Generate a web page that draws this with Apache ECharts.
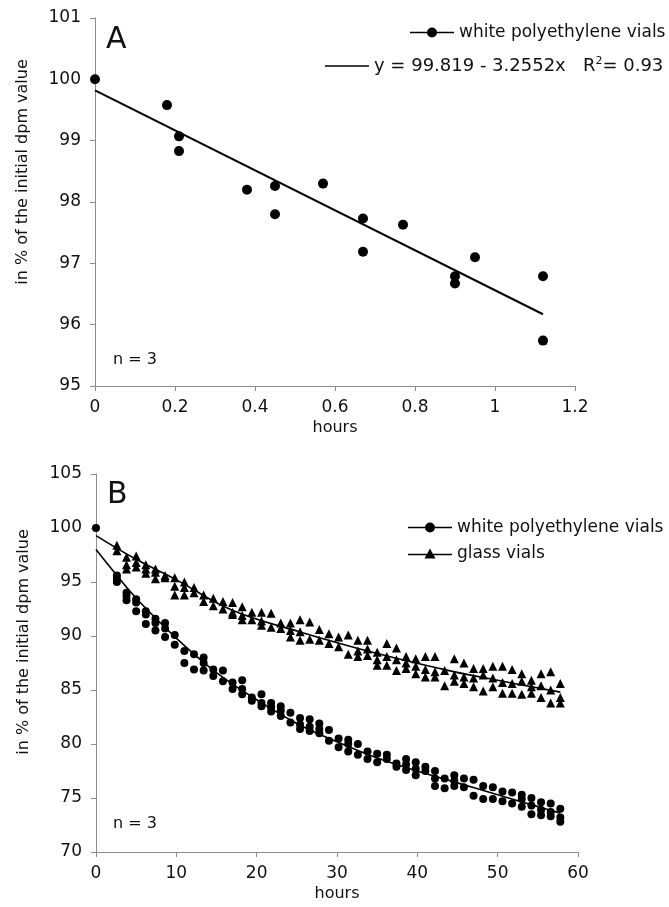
<!DOCTYPE html>
<html><head><meta charset="utf-8">
<script src="https://cdn.jsdelivr.net/npm/echarts@6/dist/echarts.min.js"></script>
<style>html,body{margin:0;padding:0;background:#fff}#c{width:669px;height:907px}</style>
</head><body><div id="c"></div>
<script>
const FONT = 'DejaVu Sans';

// ---------- Panel A ----------
const hoursA  = [0, 0.18, 0.21, 0.21, 0.38, 0.45, 0.45, 0.57, 0.67, 0.67, 0.77, 0.90, 0.90, 0.95, 1.12, 1.12];
const valuesA = [100.0, 99.58, 99.07, 98.83, 98.20, 98.26, 97.80, 98.30, 97.73, 97.19, 97.63, 96.79, 96.67, 97.10, 96.79, 95.74];
const trendAHours  = [0, 1.12];
const trendAValues = [99.82, 96.17];
const xTicksA = [0, 0.2, 0.4, 0.6, 0.8, 1, 1.2];
const yTicksA = [95, 96, 97, 98, 99, 100, 101];

// ---------- Panel B ----------
const timesB = [2.6, 3.8, 5.0, 6.2, 7.4, 8.6, 9.8, 11.0, 12.2, 13.4, 14.6, 15.8, 17.0, 18.2, 19.4, 20.6,
  21.8, 23.0, 24.2, 25.4, 26.6, 27.8, 29.0, 30.2, 31.4, 32.6, 33.8, 35.0, 36.2, 37.4, 38.6, 39.8,
  41.0, 42.2, 43.4, 44.6, 45.8, 47.0, 48.2, 49.4, 50.6, 51.8, 53.0, 54.2, 55.4, 56.6, 57.8];
const startB = [0, 100];
const polyB = [
  [95.6, 95.3, 95.0], [94.0, 93.7, 93.3], [93.4, 93.1, 92.3], [92.3, 92.0, 91.1], [91.6, 91.2, 90.5],
  [91.2, 90.7, 89.9], [90.1, 89.2], [88.6, 87.5], [88.3, 86.9], [88.0, 87.5, 86.8],
  [86.9, 86.3], [86.8, 85.8], [85.7, 85.1], [85.9, 85.1, 84.6], [84.3, 84.0],
  [84.6, 83.8, 83.5], [83.8, 83.4, 83.0], [83.5, 83.1, 82.6], [82.9, 82.0], [82.4, 81.8, 81.4],
  [82.3, 81.6, 81.2], [81.9, 81.4, 81.0], [81.3, 80.3], [80.5, 79.7], [80.4, 80.0, 79.3],
  [80.0, 79.0], [79.3, 78.6], [79.1, 78.3], [79.0, 78.6], [78.2, 77.9],
  [78.6, 78.1, 77.6], [78.3, 77.7, 77.1], [77.9, 77.5], [77.5, 76.8, 76.1], [76.8, 75.9],
  [77.1, 76.6, 76.1], [76.8, 76.0], [76.7, 75.2], [76.1, 74.9], [76.0, 74.9],
  [75.6, 74.7], [75.5, 74.5], [75.3, 74.9, 74.2], [75.0, 74.3, 73.5], [74.6, 73.9, 73.4],
  [74.5, 73.7, 73.3], [74.0, 73.2, 72.8]
];
const glassB = [
  [98.4, 97.9], [97.3, 96.6, 96.2], [97.4, 96.8, 96.4], [96.6, 96.2, 95.8], [96.2, 95.9, 95.3],
  [95.6, 95.4], [95.4, 94.6, 93.8], [95.0, 94.5, 93.8], [94.5, 94.0], [93.8, 93.2],
  [93.5, 92.8], [93.2, 92.5], [93.1, 92.2, 92.0], [92.7, 91.9, 91.5], [92.2, 91.5],
  [92.2, 91.4, 91.0], [92.1, 90.8], [91.2, 90.7], [91.2, 90.5, 89.9], [91.5, 90.4, 89.6],
  [91.3, 89.7], [90.6, 89.6], [90.2, 89.3], [89.9, 89.0], [90.1, 88.3],
  [89.6, 88.6, 88.1], [89.6, 88.8, 88.2], [88.5, 87.8, 87.3], [89.3, 88.1, 87.3], [88.9, 87.8, 86.8],
  [88.1, 87.5, 87.0], [87.9, 87.2, 86.5], [88.1, 86.9, 86.2], [88.1, 86.7, 86.2], [86.8, 85.4],
  [87.9, 86.4, 85.8], [87.5, 86.2, 85.6], [87.0, 86.1, 85.3], [87.0, 86.4, 84.9], [87.2, 86.1, 85.3],
  [87.2, 85.7, 84.7], [86.9, 85.6, 84.7], [86.5, 85.8, 84.6], [85.9, 85.3, 84.7], [86.5, 85.4, 84.3],
  [86.7, 85.0, 83.8], [85.6, 84.3, 83.8]
];
const trendPolyHours  = [0, 2.6, 5, 10, 15, 20, 25, 30, 35, 40, 45, 50, 55, 57.8];
const trendPolyValues = [98.0, 95.6, 93.5, 89.8, 86.6, 84.1, 81.9, 80.2, 78.7, 77.5, 76.4, 75.3, 74.2, 73.6];
const trendGlassHours  = [0, 5, 10, 16.9, 25.3, 34.9, 44.5, 50, 57.8];
const trendGlassValues = [99.3, 97.1, 95.2, 92.4, 90.4, 88.4, 86.7, 85.9, 84.8];
const xTicksB = [0, 10, 20, 30, 40, 50, 60];
const yTicksB = [70, 75, 80, 85, 90, 95, 100, 105];

const NAME_POLY = 'white polyethylene vials';
const NAME_GLASS = 'glass vials';
const NAME_EQ = 'y = 99.819 - 3.2552x   R2= 0.93';

// build point tables
const zip = (xs, ys) => xs.map((x, i) => [x, ys[i]]);
const ptsA = zip(hoursA, valuesA);
const ptsPoly = [startB];
timesB.forEach((t, i) => polyB[i].forEach(v => ptsPoly.push([t, v])));
const ptsGlass = [];
timesB.forEach((t, i) => glassB[i].forEach(v => ptsGlass.push([t, v])));

const AX = '#8c8c8c', TXT = '#111';
function xAx(grid, ticks) {
  return {
    type: 'value', gridIndex: grid, min: ticks[0], max: ticks[ticks.length - 1],
    interval: ticks[1] - ticks[0],
    name: 'hours', nameLocation: 'middle', nameGap: 34,
    nameTextStyle: { fontSize: 16, color: TXT, fontFamily: FONT },
    axisLine: { show: true, onZero: false, lineStyle: { color: AX, width: 1 } },
    axisTick: { show: true, length: 5, lineStyle: { color: AX } },
    axisLabel: { margin: 13, fontSize: 17, color: TXT, fontFamily: FONT,
      formatter: v => String(+(+v).toFixed(2)) },
    splitLine: { show: false }
  };
}
function yAx(grid, ticks, shift) {
  return {
    type: 'value', gridIndex: grid, min: ticks[0], max: ticks[ticks.length - 1],
    interval: ticks[1] - ticks[0],
    name: 'in % of the initial dpm value', nameLocation: 'middle', nameGap: 64,
    nameTextStyle: { fontSize: 16, color: TXT, fontFamily: FONT, padding: [0, 0, 0, shift] },
    axisLine: { show: true, onZero: false, lineStyle: { color: AX, width: 1 } },
    axisTick: { show: true, length: 5, lineStyle: { color: AX } },
    axisLabel: { margin: 14, fontSize: 17, color: TXT, fontFamily: FONT },
    splitLine: { show: false }
  };
}

const iconCircle = 'path://M0,4.2H44V5.8H0Z M17,5A5,5 0 1,1 27,5A5,5 0 1,1 17,5Z';
const iconTri = 'path://M0,5.2H44V6.8H0Z M22,0L27.5,10H16.5Z';
const legText = { fontSize: 17, color: TXT, fontFamily: FONT };

const option = {
  backgroundColor: '#fff',
  animation: false,
  textStyle: { fontFamily: FONT },
  grid: [
    { left: 95, top: 18, width: 480, height: 368, outerBoundsMode: 'none', containLabel: false },
    { left: 96, top: 474, width: 482, height: 378, outerBoundsMode: 'none', containLabel: false }
  ],
  xAxis: [xAx(0, xTicksA), xAx(1, xTicksB)],
  yAxis: [yAx(0, yTicksA, 60), yAx(1, yTicksB, 42)],
  title: [
    { text: 'A', left: 106, top: 25, padding: 0, textStyle: { fontSize: 30, fontWeight: 'normal', color: TXT, fontFamily: FONT } },
    { text: 'n = 3', left: 113, top: 352, padding: 0, textStyle: { fontSize: 16, fontWeight: 'normal', color: TXT, fontFamily: FONT } },
    { text: 'B', left: 107, top: 480, padding: 0, textStyle: { fontSize: 30, fontWeight: 'normal', color: TXT, fontFamily: FONT } },
    { text: 'n = 3', left: 113, top: 816, padding: 0, textStyle: { fontSize: 16, fontWeight: 'normal', color: TXT, fontFamily: FONT } }
  ],
  legend: [
    { left: 410, top: 24, padding: 0, itemWidth: 44, itemHeight: 10, itemGap: 0, selectedMode: false,
      data: [{ name: NAME_POLY, icon: iconCircle }], textStyle: legText, itemStyle: { color: '#000' } },
    { left: 325, top: 56, padding: 0, itemWidth: 44, itemHeight: 1.6, selectedMode: false,
      data: [{ name: NAME_EQ, icon: 'rect' }],
      formatter: n => n.replace('R2', 'R{sup|2}'),
      textStyle: Object.assign({}, legText, { fontSize: 18, rich: { sup: { fontSize: 11, color: TXT, fontFamily: FONT, padding: [0, 0, 9, 0] } } }),
      itemStyle: { color: '#000' } },
    { left: 408, top: 519, padding: 0, orient: 'vertical', itemWidth: 44, itemHeight: 10, itemGap: 9, selectedMode: false,
      data: [{ name: NAME_POLY, icon: iconCircle }, { name: NAME_GLASS, icon: iconTri }],
      textStyle: legText, itemStyle: { color: '#000' } }
  ],
  series: [
    { name: NAME_POLY, type: 'scatter', xAxisIndex: 0, yAxisIndex: 0, data: ptsA,
      symbol: 'circle', symbolSize: 10, itemStyle: { color: '#000', opacity: 1 }, z: 3 },
    { name: NAME_EQ, type: 'line', xAxisIndex: 0, yAxisIndex: 0, data: zip(trendAHours, trendAValues),
      symbol: 'none', color: '#000', lineStyle: { color: '#000', width: 2 }, itemStyle: { color: '#000' }, z: 2 },
    { name: NAME_POLY, type: 'scatter', xAxisIndex: 1, yAxisIndex: 1, data: ptsPoly,
      symbol: 'circle', symbolSize: 8, itemStyle: { color: '#000', opacity: 1 }, z: 3 },
    { name: NAME_GLASS, type: 'scatter', xAxisIndex: 1, yAxisIndex: 1, data: ptsGlass,
      symbol: 'triangle', symbolSize: 9, itemStyle: { color: '#000', opacity: 1 }, z: 3 },
    { name: 'fit poly', type: 'line', xAxisIndex: 1, yAxisIndex: 1, data: zip(trendPolyHours, trendPolyValues),
      smooth: 0.4, symbol: 'none', color: '#000', lineStyle: { color: '#000', width: 1.6 }, z: 2 },
    { name: 'fit glass', type: 'line', xAxisIndex: 1, yAxisIndex: 1, data: zip(trendGlassHours, trendGlassValues),
      smooth: 0.4, symbol: 'none', color: '#000', lineStyle: { color: '#000', width: 1.6 }, z: 2 }
  ]
};
const chart = echarts.init(document.getElementById('c'), null, { renderer: 'canvas' });
chart.setOption(option);
</script></body></html>
